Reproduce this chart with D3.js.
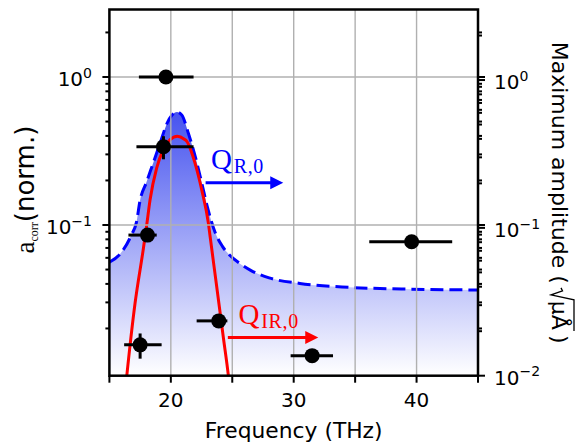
<!DOCTYPE html>
<html><head><meta charset="utf-8">
<script src="https://cdn.jsdelivr.net/npm/d3@7"></script>
<style>body{margin:0;background:#fff} svg{display:block}</style>
</head><body><svg id="c" width="585" height="443"></svg>
<script>
// ---------- data ----------
const freqTicks = [15, 20, 25, 30, 35, 40, 45];
const freqTickLabels = ["", "20", "", "30", "", "40", ""];
const leftMajorTicks = [1, 0.1];
const leftMajorLabels = [["10", "0"], ["10", "\u22121"]];
const leftMinorTicks = [0.02,0.03,0.04,0.05,0.06,0.07,0.08,0.09,0.2,0.3,0.4,0.5,0.6,0.7,0.8,0.9,2];
const rightMajorTicks = [1, 0.1, 0.01];
const rightMajorLabels = [["10", "0"], ["10", "\u22121"], ["10", "\u22122"]];
const rightMinorTicks = [0.02,0.03,0.04,0.05,0.06,0.07,0.08,0.09,0.2,0.3,0.4,0.5,0.6,0.7,0.8,0.9,2];

// measured points (left axis: a_corr normalised)
const pointFreq = [19.6, 19.4, 18.1, 17.5, 23.9, 31.5, 39.6];
const pointAcorr = [1.0, 0.338, 0.0855, 0.0155, 0.0225, 0.0131, 0.0771];
const pointFreqErrMinus = [2.2, 2.2, 1.55, 1.3, 1.8, 1.75, 3.45];
const pointFreqErrPlus = [2.25, 2.45, 0.75, 1.75, 0.7, 1.7, 3.3];
const pointAcorrErr = [0, 0.06, 0, 0.003, 0, 0, 0];

// envelope (blue dashed, right axis)
const envFreq = [15.0, 15.9, 16.8, 17.2, 17.5, 18.0, 18.5, 19.1, 19.7, 20.1, 20.5, 20.9, 21.4, 22.0, 22.5, 23.0, 23.6, 24.2, 24.8, 25.6, 26.5, 28.0, 30.5, 34.5, 39.5, 45.0];
const envAmp = [0.0586, 0.067, 0.0898, 0.109, 0.154, 0.2017, 0.265, 0.368, 0.511, 0.579, 0.607, 0.579, 0.444, 0.301, 0.204, 0.136, 0.0933, 0.075, 0.0652, 0.0575, 0.0516, 0.0459, 0.0421, 0.0396, 0.0385, 0.038];

// fit (red, right axis)
const fitFreq = [16.0, 16.41, 17.09, 17.76, 18.04, 18.31, 18.85, 19.4, 19.94, 20.53, 21.1, 21.3, 21.98, 22.52, 23.06, 23.2, 23.74, 24.28, 24.69, 25.1];
const fitAmp = [0.0045, 0.0099, 0.031, 0.072, 0.105, 0.155, 0.255, 0.34, 0.395, 0.417, 0.398, 0.385, 0.272, 0.18, 0.107, 0.087, 0.0397, 0.018, 0.0099, 0.0045];

// annotations (data coords, right axis)
const annotLabels = [["Q", "R,0"], ["Q", "IR,0"]];
const annotColors = ["#0000ff", "#ff0000"];
const annotTextFreq = [23.26, 25.5];
const annotTextAmp = [0.249, 0.0222];
const arrowFreqStart = [22.83, 24.64];
const arrowFreqEnd = [29.15, 32.0];
const arrowAmp = [0.202, 0.01815];

// ---------- layout ----------
const L = 109.4, R = 478, T = 9.5, B = 375.7;
const svg = d3.select("#c");
svg.append("rect").attr("width", 585).attr("height", 443).attr("fill", "#fff");

const x = d3.scaleLinear().domain([15, 45]).range([L, R]);
const yL = d3.scaleLog().domain([0.00959, 2.858]).range([B, T]);
const yR = d3.scaleLog().domain([0.01, 3]).range([B, T]);

const defs = svg.append("defs");
defs.append("clipPath").attr("id", "clip").append("rect")
  .attr("x", L).attr("y", T).attr("width", R - L).attr("height", B - T);
const grad = defs.append("linearGradient").attr("id", "g")
  .attr("gradientUnits", "userSpaceOnUse").attr("x1", 0).attr("x2", 0)
  .attr("y1", yR(d3.max(envAmp))).attr("y2", B);
grad.append("stop").attr("offset", 0).attr("stop-color", "#4653ef");
grad.append("stop").attr("offset", 1).attr("stop-color", "#ffffff");

const plot = svg.append("g").attr("clip-path", "url(#clip)");
const env = envFreq.map((f, i) => [f, envAmp[i]]);
const fit = fitFreq.map((f, i) => [f, fitAmp[i]]);

// fill
plot.append("path").datum(env)
  .attr("d", d3.area().x(d => x(d[0])).y0(B + 5).y1(d => yR(d[1])).curve(d3.curveMonotoneX))
  .attr("fill", "url(#g)");

// grid
const gridG = svg.append("g").attr("stroke", "#b0b0b0").attr("stroke-width", 1.4);
freqTicks.slice(1, -1).forEach(t => gridG.append("line").attr("x1", x(t)).attr("x2", x(t)).attr("y1", T).attr("y2", B));
leftMajorTicks.forEach(t => gridG.append("line").attr("x1", L).attr("x2", R).attr("y1", yL(t)).attr("y2", yL(t)));

// curves
plot.append("path").datum(env)
  .attr("d", d3.line().x(d => x(d[0])).y(d => yR(d[1])).curve(d3.curveMonotoneX))
  .attr("fill", "none").attr("stroke", "#0000ff").attr("stroke-width", 3)
  .attr("stroke-dasharray", "13,6");
plot.append("path").datum(fit)
  .attr("d", d3.line().x(d => x(d[0])).y(d => yR(d[1])).curve(d3.curveMonotoneX))
  .attr("fill", "none").attr("stroke", "#ff0000").attr("stroke-width", 3);

// error bars & points
const pts = svg.append("g");
pointFreq.forEach((f, i) => {
  const cx = x(f), cy = yL(pointAcorr[i]);
  pts.append("line").attr("x1", x(f - pointFreqErrMinus[i])).attr("x2", x(f + pointFreqErrPlus[i]))
    .attr("y1", cy).attr("y2", cy).attr("stroke", "#000").attr("stroke-width", 3);
  if (pointAcorrErr[i] > 0) {
    pts.append("line").attr("x1", cx).attr("x2", cx)
      .attr("y1", yL(pointAcorr[i] + pointAcorrErr[i])).attr("y2", yL(pointAcorr[i] - pointAcorrErr[i]))
      .attr("stroke", "#000").attr("stroke-width", 3);
  }
  pts.append("circle").attr("cx", cx).attr("cy", cy).attr("r", 7.5).attr("fill", "#000");
});

// annotations
annotLabels.forEach((lab, i) => {
  const col = annotColors[i];
  const t = svg.append("text").attr("x", x(annotTextFreq[i])).attr("y", yR(annotTextAmp[i]))
    .attr("fill", col).attr("font-family", "Liberation Serif, serif");
  t.append("tspan").attr("font-size", 29).text(lab[0]);
  t.append("tspan").attr("font-size", 20).attr("dy", 4).attr("dx", 2).attr("letter-spacing", 0.6).text(lab[1]);
  const y0 = yR(arrowAmp[i]), x0 = x(arrowFreqStart[i]), x1 = x(arrowFreqEnd[i]);
  svg.append("line").attr("x1", x0).attr("x2", x1 - 10).attr("y1", y0).attr("y2", y0)
    .attr("stroke", col).attr("stroke-width", 3);
  svg.append("path").attr("d", `M${x1},${y0} L${x1 - 13},${y0 - 6.5} L${x1 - 13},${y0 + 6.5} Z`).attr("fill", col);
});

// spines
svg.append("rect").attr("x", L).attr("y", T).attr("width", R - L).attr("height", B - T)
  .attr("fill", "none").attr("stroke", "#000").attr("stroke-width", 2.5);

// ticks
const tk = svg.append("g").attr("stroke", "#000").attr("stroke-width", 2);
freqTicks.forEach(t => tk.append("line").attr("x1", x(t)).attr("x2", x(t)).attr("y1", B).attr("y2", B + 7));
leftMajorTicks.forEach(t => tk.append("line").attr("x1", L - 7).attr("x2", L).attr("y1", yL(t)).attr("y2", yL(t)));
leftMinorTicks.forEach(t => tk.append("line").attr("x1", L - 4).attr("x2", L).attr("y1", yL(t)).attr("y2", yL(t)));
rightMajorTicks.forEach(t => tk.append("line").attr("x1", R).attr("x2", R + 7).attr("y1", yR(t)).attr("y2", yR(t)));
rightMinorTicks.forEach(t => tk.append("line").attr("x1", R).attr("x2", R + 4).attr("y1", yR(t)).attr("y2", yR(t)));
leftMajorTicks.forEach(t => tk.append("line").attr("x1", R).attr("x2", R + 7).attr("y1", yL(t)).attr("y2", yL(t)));
leftMinorTicks.forEach(t => tk.append("line").attr("x1", R).attr("x2", R + 4).attr("y1", yL(t)).attr("y2", yL(t)));

const FONT = "DejaVu Sans, sans-serif";
// tick labels
freqTicks.forEach((t, i) => {
  if (!freqTickLabels[i]) return;
  svg.append("text").attr("x", x(t)).attr("y", 407).attr("text-anchor", "middle")
    .attr("font-family", FONT).attr("font-size", 20).text(freqTickLabels[i]);
});
function powLabel(xp, yp, anchor, lab) {
  const t = svg.append("text").attr("x", xp).attr("y", yp + 9.2).attr("text-anchor", anchor)
    .attr("font-family", FONT).attr("font-size", 20);
  t.append("tspan").text(lab[0]);
  t.append("tspan").attr("font-size", 14).attr("dy", -8.5).text(lab[1]);
}
leftMajorTicks.forEach((t, i) => powLabel(92, yL(t), "end", leftMajorLabels[i]));
rightMajorTicks.forEach((t, i) => powLabel(494, yR(t), "start", rightMajorLabels[i]));

// axis labels
svg.append("text").attr("x", (L + R) / 2).attr("y", 438).attr("text-anchor", "middle")
  .attr("font-family", FONT).attr("font-size", 21.8).text("Frequency (THz)");

const yl = svg.append("text").attr("transform", `translate(34,${(T + B) / 2 - 3}) rotate(-90)`)
  .attr("text-anchor", "middle").attr("font-family", FONT).attr("font-size", 26);
yl.append("tspan").attr("font-family", "Liberation Serif, serif").attr("font-size", 27).text("a");
yl.append("tspan").attr("font-family", "Liberation Serif, serif").attr("font-size", 12).attr("dy", 4).text("corr");
yl.append("tspan").attr("dy", -4).text("(norm.)");

// right label with radical
const rg = svg.append("g");
const rt = rg.append("text").attr("font-family", FONT).attr("font-size", 22).attr("x", 0).attr("y", 0);
const p1 = rt.append("tspan").text("Maximum amplitude (");
const w1 = p1.node().getComputedTextLength();
const radX = w1 + 4;
const muX = radX + 13;
const p2 = rg.append("text").attr("font-family", FONT).attr("font-size", 22).attr("x", muX).attr("y", 0).text("\u00b5\u00c5");
const w2 = p2.node().getComputedTextLength();
rg.append("path").attr("d", `M${radX},${-9} L${radX + 3},${-10.5} L${radX + 7},${1} L${radX + 12},${-22} L${muX + w2 + 1},${-22}`)
  .attr("fill", "none").attr("stroke", "#000").attr("stroke-width", 1.3);
const p3 = rg.append("text").attr("font-family", FONT).attr("font-size", 22).attr("x", muX + w2 + 5).attr("y", 0).text(")");
const total = muX + w2 + 5 + p3.node().getComputedTextLength();
rg.attr("transform", `translate(552,${(T + B) / 2}) rotate(90) translate(${-total / 2},0)`);
</script></body></html>
